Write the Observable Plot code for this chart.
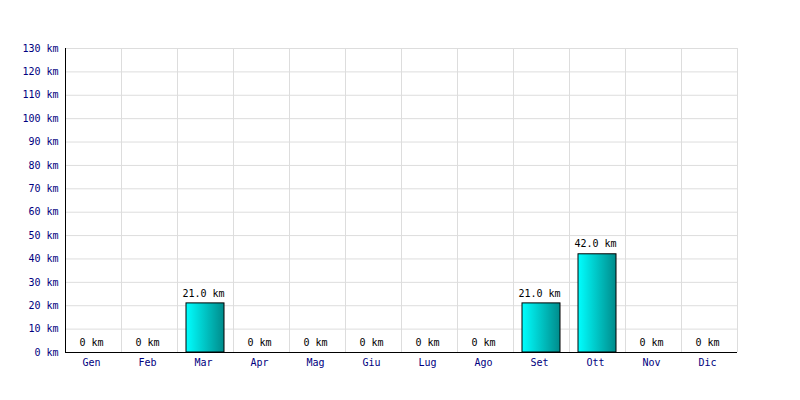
<!DOCTYPE html>
<html><head><meta charset="utf-8">
<script src="https://cdn.jsdelivr.net/npm/d3@7"></script>
<script src="https://cdn.jsdelivr.net/npm/@observablehq/plot@0.6"></script>
<style>body{margin:0;background:#fff}</style>
</head><body><div id="chart"></div>
<script>
const months = ["Gen","Feb","Mar","Apr","Mag","Giu","Lug","Ago","Set","Ott","Nov","Dic"];
const km = [0,0,21,0,0,0,0,0,21,42,0,0];
const yTicks = [0,10,20,30,40,50,60,70,80,90,100,110,120,130];
const yMax = 130;

const data = months.map((m,i)=>({month:m, km:km[i]}));
const fmt = v => v === 0 ? "0 km" : v.toFixed(1) + " km";

const defs = () => {
  const d = d3.create("svg:defs");
  const g = d.append("linearGradient").attr("id","barGrad").attr("x1","0").attr("x2","1").attr("y1","0").attr("y2","0");
  g.append("stop").attr("offset","0%").attr("stop-color","#00ffff");
  g.append("stop").attr("offset","100%").attr("stop-color","#008b8b");
  return d.node();
};

const chart = Plot.plot({
  width: 800, height: 400,
  marginLeft: 65, marginRight: 63, marginTop: 48, marginBottom: 48,
  style: {fontFamily: "'DejaVu Sans Mono', monospace", fontSize: "10px", background: "#fff"},
  x: {domain: months, padding: 0, label: null},
  y: {domain: [0, yMax], label: null},
  marks: [
    defs,
    Plot.ruleY(yTicks, {stroke: "#dddddd", strokeWidth: 1}),
    Plot.ruleX(months, {x: d => d, dx: -28, y1: 0, y2: yMax, stroke: "#dddddd", strokeWidth: 1}),
    Plot.ruleX([months[months.length-1]], {x: d => d, dx: 28, y1: 0, y2: yMax, stroke: "#dddddd", strokeWidth: 1}),
    Plot.barY(data.filter(d=>d.km>0), {x: "month", y: "km", fill: "url(#barGrad)", stroke: "#000", strokeWidth: 1, insetLeft: 9, insetRight: 9}),
    Plot.text(data, {x: "month", y: "km", text: d => fmt(d.km), dy: -10, dx: -2, fill: "#000", fontSize: 10}),
    Plot.axisY({ticks: yTicks, tickFormat: d => d + " km", tickSize: 0, tickPadding: 7, fill: "#000080", fontSize: 10, label: null}),
    Plot.axisX({tickSize: 0, tickPadding: 6, dx: -2, fill: "#000080", fontSize: 10, label: null}),
    Plot.ruleX([months[0]], {x: d => d, stroke: "#000", dx: -28, y1: 0, y2: yMax}),
    Plot.ruleY([0], {stroke: "#000"})
  ]
});
document.getElementById("chart").appendChild(chart);
</script>
</body></html>
